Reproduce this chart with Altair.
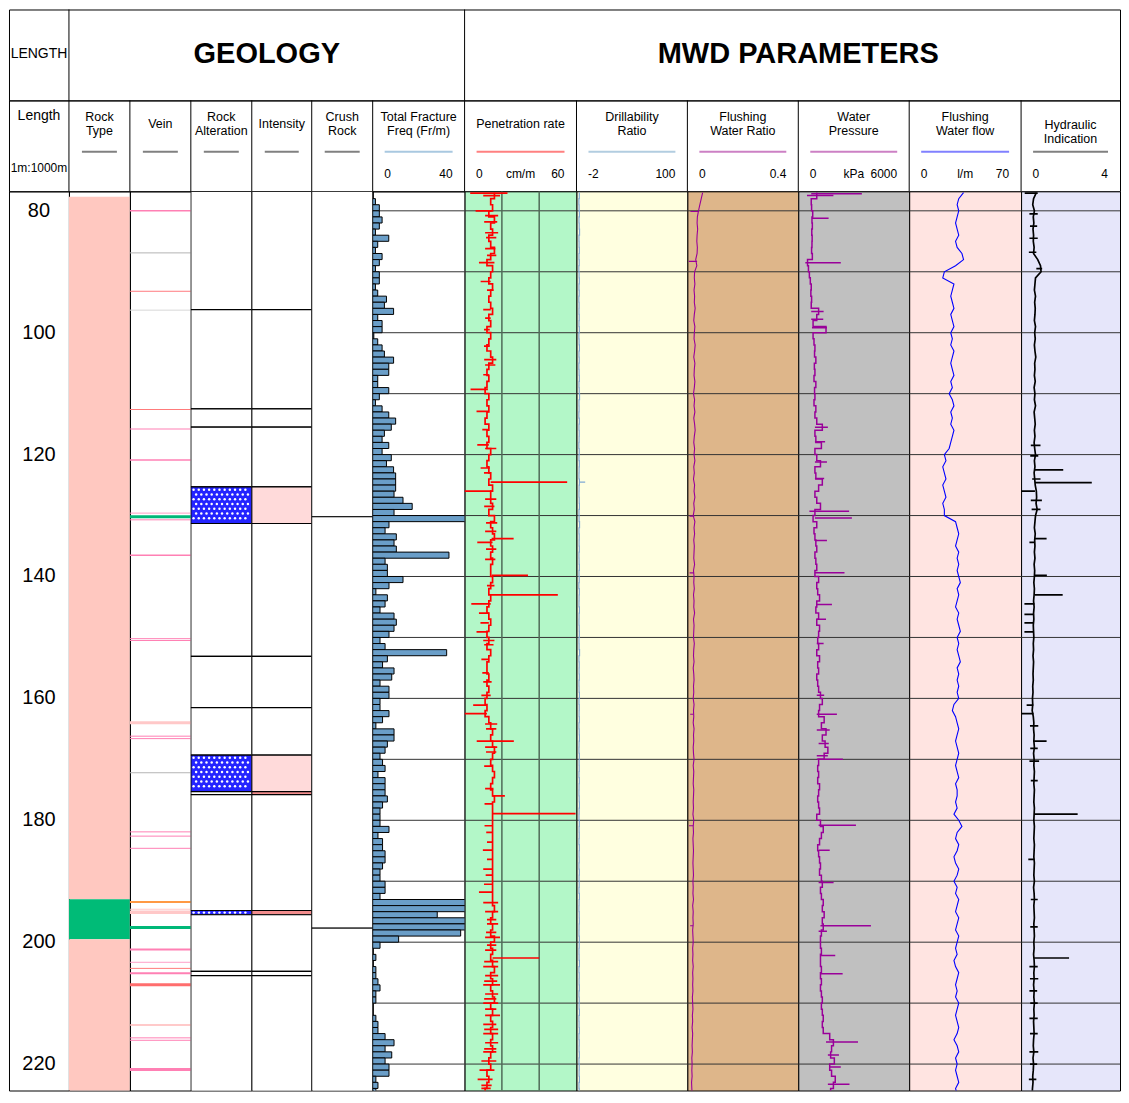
import altair as alt
import numpy as np
import pandas as pd

FONT = "Liberation Sans"

# ---------------------------------------------------------------- data
DEPTH_TOP = 76.80
DEPTH_BOTTOM = 224.34
DEPTH_LABELS = [80, 100, 120, 140, 160, 180, 200, 220]
GRID_DEPTHS = [80, 90, 100, 110, 120, 130, 140, 150, 160, 170, 180, 190, 200, 210, 220]

ROCK_TOP = [77.7, 192.95, 199.5]
ROCK_BOTTOM = [192.95, 199.5, 226.31]
ROCK_COLOR = ["#ffc8c0", "#00bb77", "#ffc8c0"]

VEIN_DEPTH = [80.0, 86.9, 93.2, 96.3, 112.6, 115.8, 120.9, 129.6, 130.2, 130.7,
              136.5, 150.2, 150.5, 164.0, 166.2, 166.6, 172.2, 181.9, 182.6, 184.6,
              193.4, 194.6, 195.1, 197.6, 201.2, 203.3, 204.3, 205.1, 207.0, 213.6,
              215.7, 216.1, 220.9]
VEIN_COLOR = ["#ff80b4", "#b4b4b4", "#ff7a80", "#d8d8d8", "#ff7a7a", "#ff80b4", "#ff80b4", "#ff9cc4", "#00b878", "#ff80b4",
              "#ff80b4", "#ff80b4", "#ff80b4", "#ffc8c8", "#ff80b4", "#ff80b4", "#b4b4b4", "#ff80b4", "#ff80b4", "#ff80b4",
              "#ff9944", "#ffc8c8", "#ffc8c8", "#00b878", "#ff80b4", "#ffa0c8", "#ff7a7a", "#ff80b4", "#ff6e6e", "#ffb8b8",
              "#ff80b4", "#ff80b4", "#ff80b4"]
VEIN_WIDTH = [1.5, 1, 1, 1, 1, 1, 1.5, 1, 3, 1,
              1.5, 1, 1, 3, 1, 1, 1, 1, 1, 1,
              2, 1, 3.5, 3, 2, 1, 1, 2, 3, 1.5,
              1, 1, 3]

ALT_TOP = [76.80, 96.2, 112.5, 115.5, 125.3, 131.3, 153.1, 161.5, 169.3, 175.3, 175.8, 194.8, 195.5, 204.8, 205.5]
ALT_BOTTOM = [96.2, 112.5, 115.5, 125.3, 131.3, 153.1, 161.5, 169.3, 175.3, 175.8, 194.8, 195.5, 204.8, 205.5, 226.31]
ALT_HATCH = [0, 0, 0, 0, 1, 0, 0, 0, 1, 0, 0, 1, 0, 0, 0]
INT_FILL = ["#ffffff", "#ffffff", "#ffffff", "#ffffff", "#ffdada", "#ffffff", "#ffffff", "#ffffff",
            "#ffdada", "#f28c8c", "#ffffff", "#f28c8c", "#ffffff", "#ffffff", "#ffffff"]

CRUSH_TOP = [76.80, 130.2, 197.7]
CRUSH_BOTTOM = [130.2, 197.7, 226.31]

TFF_FIRST_BIN = 78
TFF_VALUES = [1.2, 2.9, 2.9, 4.1, 2.9, 1.2, 7.0, 2.2, 1.2, 4.1,      # 78-87
              2.9, 1.2, 2.9, 2.9, 1.2, 2.2, 6.0, 5.1, 9.1, 2.2,      # 88-97
              4.1, 4.1, 0.5, 2.2, 4.1, 5.1, 9.1, 7.0, 7.0, 2.2,      # 98-107
              2.2, 7.0, 2.9, 1.2, 4.1, 7.0, 10.0, 8.1, 5.1, 4.1,     # 108-117
              7.0, 4.1, 8.1, 6.0, 9.1, 10.0, 10.0, 10.0, 9.3, 13.2,  # 118-127
              17.2, 9.3, 45.0, 7.1, 5.4, 10.3, 9.3, 10.3, 33.2, 5.4, # 128-137
              6.4, 6.4, 13.2, 7.1, 1.4, 6.4, 5.4, 3.2, 9.3, 10.3,    # 138-147
              9.3, 7.1, 3.2, 5.4, 32.2, 6.4, 4.3, 9.3, 8.3, 3.2,     # 148-157
              7.1, 7.1, 3.2, 3.2, 7.1, 4.3, 1.4, 9.3, 9.3, 6.4,      # 158-167
              5.4, 3.2, 4.3, 5.4, 2.3, 5.4, 5.4, 5.4, 6.4, 4.3,      # 168-177
              3.2, 3.2, 3.2, 7.1, 2.3, 4.3, 4.3, 5.4, 5.4, 4.3,      # 178-187
              3.2, 3.2, 5.4, 5.4, 3.2, 45.0, 45.0, 28.1, 45.0, 45.0, # 188-197
              38.3, 11.3, 3.2, 0.0, 1.4, 0.0, 1.4, 1.4, 2.3, 3.2,    # 198-207
              1.4, 1.4, 0.0, 0.0, 1.4, 2.3, 2.3, 5.4, 9.3, 5.4,      # 208-217
              8.3, 5.4, 7.1, 7.1, 1.4, 2.3, 1.4, 2.3, 6.4]           # 218-226

CURVE_DEPTH = list(range(77, 227))

PEN = [16, 14, 15, 13, 16, 14, 15, 13, 14, 16,
       14, 12, 15, 14, 13, 15, 14, 13, 14, 15,
       13, 14, 12, 14, 13, 12, 14, 15, 13, 12,
       13, 12, 11, 13, 12, 13, 12, 11, 13, 12,
       13, 12, 14, 13, 12, 13, 14, 13, 15, 14,
       14, 15, 13, 16, 14, 15, 16, 14, 15, 14,
       15, 14, 14, 15, 14, 13, 14, 13, 12, 13,
       14, 13, 12, 13, 12, 14, 13, 12, 12, 13,
       12, 13, 12, 11, 12, 11, 13, 14, 15, 14,
       15, 16, 15, 14, 15, 16, 15, 14, 15, 16,
       15, 15, 15, 15, 15, 15, 15, 15, 15, 15,
       15, 15, 15, 15, 15, 15, 15, 16, 15, 14,
       15, 14, 16, 14, 15, 14, 15, 16, 14, 15,
       14, 15, 16, 14, 15, 14, 15, 14, 15, 14,
       15, 14, 13, 14, 12, 13, 12, 11, 12, 11]

DRILL = [0.6, 0.2, 0.4, 0.7, 0.3, 0.5, 0.8, 0.3, 0.4, 0.6,
         0.3, 0.5, 0.2, 0.4, 0.6, 0.3, 0.5, 0.2, 0.4, 0.3,
         0.5, 0.3, 0.6, 0.2, 0.4, 0.7, 0.3, 0.5, 0.2, 0.4,
         0.6, 0.3, 0.5, 0.8, 0.3, 0.4, 0.2, 0.6, 0.3, 0.5,
         0.4, 0.2, 0.5, 0.3, 0.6, 0.4, 0.3, 0.7, 0.4, 0.3,
         0.5, 0.7, 0.3, 0.4, 0.8, 0.3, 0.5, 0.4, 0.6, 0.3,
         0.4, 0.6, 0.3, 0.5, 0.2, 0.6, 0.4, 0.3, 0.7, 0.4,
         0.3, 0.5, 0.6, 0.3, 0.4, 0.8, 0.3, 0.5, 0.4, 0.6,
         0.3, 0.4, 0.7, 0.3, 0.5, 0.4, 0.6, 0.3, 0.5, 0.7,
         0.4, 0.3, 0.6, 0.4, 0.5, 0.3, 0.6, 0.4, 0.3, 0.5,
         0.7, 0.4, 0.3, 0.6, 0.4, 0.5, 0.3, 0.6, 0.4, 0.5,
         0.3, 0.6, 0.4, 0.5, 0.3, 0.7, 0.4, 0.3, 0.5, 0.6,
         0.4, 0.3, 0.6, 0.5, 0.3, 0.4, 0.7, 0.3, 0.5, 0.4,
         0.6, 0.3, 0.5, 0.4, 0.7, 0.3, 0.4, 0.6, 0.3, 0.5,
         0.4, 0.6, 0.3, 0.5, 0.4, 0.7, 0.3, 0.5, 0.4, 0.6]

FWR = [0.055, 0.050, 0.045, 0.040, 0.036, 0.035, 0.037, 0.035, 0.034, 0.036,
       0.035, 0.030, 0.034, 0.026, 0.025, 0.027, 0.024, 0.026, 0.025, 0.028,
       0.025, 0.023, 0.027, 0.025, 0.024, 0.028, 0.026, 0.023, 0.027, 0.025,
       0.024, 0.027, 0.025, 0.022, 0.026, 0.024, 0.027, 0.023, 0.026, 0.028,
       0.025, 0.023, 0.026, 0.024, 0.027, 0.023, 0.025, 0.022, 0.026, 0.024,
       0.027, 0.023, 0.025, 0.021, 0.027, 0.024, 0.026, 0.023, 0.025, 0.024,
       0.023, 0.026, 0.022, 0.024, 0.023, 0.025, 0.022, 0.024, 0.023, 0.026,
       0.022, 0.024, 0.023, 0.022, 0.025, 0.023, 0.022, 0.024, 0.021, 0.023,
       0.024, 0.022, 0.023, 0.021, 0.024, 0.022, 0.023, 0.021, 0.024, 0.022,
       0.023, 0.021, 0.022, 0.024, 0.021, 0.023, 0.022, 0.021, 0.023, 0.022,
       0.021, 0.022, 0.020, 0.023, 0.021, 0.022, 0.020, 0.021, 0.022, 0.021,
       0.020, 0.021, 0.022, 0.020, 0.021, 0.020, 0.022, 0.019, 0.021, 0.020,
       0.021, 0.019, 0.020, 0.021, 0.019, 0.020, 0.019, 0.021, 0.019, 0.020,
       0.019, 0.020, 0.018, 0.019, 0.020, 0.018, 0.019, 0.017, 0.019, 0.018,
       0.017, 0.018, 0.016, 0.017, 0.016, 0.017, 0.015, 0.016, 0.017, 0.016]

WP = [1000, 700, 720, 780, 740, 760, 730, 750, 740, 720,
      760, 500, 550, 600, 650, 700, 680, 720, 700, 1100,
      1000, 800, 1500, 800, 850, 900, 880, 950, 870, 900,
      850, 950, 880, 900, 850, 950, 900, 1000, 1300, 900,
      950, 1250, 900, 1000, 1200, 900, 950, 1300, 1100, 900,
      1000, 1200, 900, 800, 1000, 850, 900, 950, 1000, 900,
      950, 1000, 900, 1100, 1000, 1050, 1150, 1000, 950, 1100,
      1000, 1150, 1100, 1050, 1100, 1000, 1150, 1050, 1100, 1000,
      1050, 1100, 1200, 1300, 1150, 1100, 1400, 1250, 1500, 1300,
      1450, 1600, 1400, 1100, 1050, 1100, 1050, 1150, 1100, 1050,
      1100, 1150, 1000, 1200, 1350, 1250, 1150, 1050, 1100, 1150,
      1200, 1150, 1250, 1300, 1200, 1250, 1350, 1300, 1400, 1300,
      1350, 1250, 1200, 1200, 1250, 1200, 1200, 1250, 1200, 1250,
      1200, 1250, 1300, 1250, 1300, 1350, 1300, 1350, 1700, 1900,
      1800, 1750, 1950, 1700, 1800, 2000, 1900, 1750, 1800, 1700]

FWF = [34, 31, 30, 31, 30, 29, 30, 31, 29, 30,
       33, 34, 29, 22, 21, 28, 27, 26, 27, 28,
       26, 27, 28, 26, 27, 26, 28, 27, 26, 27,
       28, 26, 27, 25, 27, 28, 26, 27, 26, 28,
       27, 26, 25, 22, 23, 21, 22, 23, 21, 22,
       23, 21, 22, 22, 29, 30, 31, 30, 29, 31,
       30, 31, 30, 31, 32, 30, 31, 30, 29, 31,
       30, 31, 32, 30, 31, 30, 31, 32, 30, 31,
       30, 31, 30, 31, 28, 27, 29, 30, 31, 30,
       29, 30, 31, 30, 29, 30, 31, 29, 30, 30,
       29, 30, 28, 31, 33, 30, 29, 31, 30, 28,
       29, 31, 30, 28, 30, 29, 31, 30, 29, 31,
       30, 29, 31, 30, 29, 30, 28, 29, 31, 30,
       29, 30, 29, 31, 30, 29, 30, 31, 30, 28,
       30, 31, 29, 30, 29, 30, 31, 29, 30, 29]

HI = [0.55, 0.45, 0.42, 0.48, 0.44, 0.46, 0.43, 0.45, 0.44, 0.47,
      0.45, 0.60, 0.70, 0.72, 0.52, 0.50, 0.48, 0.52, 0.49, 0.51,
      0.50, 0.48, 0.52, 0.49, 0.51, 0.48, 0.50, 0.53, 0.49, 0.50,
      0.48, 0.51, 0.47, 0.50, 0.48, 0.52, 0.47, 0.49, 0.51, 0.48,
      0.50, 0.47, 0.49, 0.52, 0.48, 0.50, 0.47, 0.49, 0.51, 0.55,
      0.56, 0.54, 0.58, 0.52, 0.50, 0.48, 0.51, 0.49, 0.50, 0.48,
      0.50, 0.47, 0.49, 0.48, 0.46, 0.48, 0.47, 0.45, 0.47, 0.45,
      0.46, 0.44, 0.45, 0.46, 0.44, 0.45, 0.43, 0.45, 0.44, 0.43,
      0.44, 0.42, 0.43, 0.41, 0.42, 0.40, 0.44, 0.46, 0.45, 0.47,
      0.46, 0.48, 0.45, 0.47, 0.46, 0.48, 0.47, 0.46, 0.48, 0.47,
      0.46, 0.48, 0.47, 0.46, 0.48, 0.47, 0.46, 0.48, 0.47, 0.46,
      0.48, 0.47, 0.46, 0.48, 0.45, 0.47, 0.48, 0.46, 0.47, 0.48,
      0.46, 0.47, 0.48, 0.46, 0.47, 0.45, 0.47, 0.48, 0.46, 0.47,
      0.45, 0.47, 0.46, 0.48, 0.46, 0.47, 0.45, 0.46, 0.47, 0.45,
      0.44, 0.46, 0.43, 0.45, 0.44, 0.42, 0.43, 0.41, 0.40, 0.38]

# short excursions (depth, low end, high end)
PEN_SPIKES = [(77.1, 3.0, 23.0), (77.5, 10.0, 19.0), (80.0, 5.9, 14.5), (80.8, 11.0, 18.0),
              (81.8, 10.5, 17.5), (83.6, 11.0, 18.0), (84.4, 11.5, 17.0), (86.2, 11.0, 16.5),
              (87.3, 12.0, 17.0), (88.5, 7.7, 16.0), (91.6, 8.6, 14.0), (93.0, 12.0, 15.5),
              (96.2, 10.0, 14.0), (97.6, 11.0, 14.0), (99.5, 10.4, 13.5), (102.2, 10.4, 13.5),
              (104.4, 10.5, 17.0), (105.3, 11.0, 16.5), (106.9, 10.0, 13.0), (109.3, 3.2, 12.5),
              (112.9, 6.4, 13.0), (115.9, 9.5, 12.5), (118.4, 6.8, 13.0), (119.0, 11.0, 17.0),
              (122.2, 8.6, 13.5), (123.0, 10.4, 14.0), (124.5, 14.0, 55.0), (126.0, 0.0, 14.5),
              (127.3, 11.0, 17.0), (128.5, 10.5, 16.0), (131.2, 11.5, 17.5), (132.6, 11.0, 17.0),
              (133.8, 14.5, 26.3), (134.4, 6.8, 15.0), (135.5, 11.5, 17.0), (137.2, 11.0, 16.5),
              (139.8, 14.5, 34.0), (141.5, 12.0, 16.0), (143.0, 14.0, 50.0), (144.5, 3.6, 14.0),
              (146.0, 7.7, 13.0), (147.6, 8.5, 13.0), (149.1, 6.4, 12.5), (150.5, 10.0, 16.0),
              (151.2, 10.5, 15.5), (153.6, 9.0, 13.0), (155.8, 9.5, 13.0), (157.3, 10.0, 14.5),
              (159.5, 9.0, 14.0), (161.1, 4.6, 12.0), (162.5, 0.0, 12.0), (164.2, 11.0, 17.5),
              (165.0, 11.5, 17.0), (167.0, 6.5, 26.4), (168.0, 11.0, 17.5), (168.8, 11.5, 17.0),
              (171.1, 10.5, 15.0), (174.8, 11.0, 15.5), (176.0, 15.0, 21.6), (177.3, 10.7, 15.0),
              (178.9, 15.0, 59.5), (180.9, 10.7, 15.0), (182.0, 11.6, 15.0), (183.6, 12.0, 15.0),
              (184.9, 9.8, 15.0), (186.4, 12.0, 15.0), (188.0, 10.0, 15.0), (189.0, 11.3, 15.0),
              (190.5, 10.4, 15.0), (191.8, 7.7, 15.0), (193.5, 10.0, 18.0), (195.0, 11.0, 18.0),
              (196.3, 12.0, 17.0), (197.0, 12.0, 18.0), (198.4, 11.5, 17.0), (199.2, 11.0, 19.0),
              (200.5, 12.0, 17.0), (201.3, 11.0, 17.0), (202.6, 15.0, 40.0), (203.2, 10.5, 18.0),
              (204.0, 10.0, 18.0), (205.5, 11.0, 18.0), (206.4, 10.5, 17.5), (207.0, 10.0, 19.0),
              (208.5, 11.0, 18.0), (209.3, 10.5, 17.0), (210.0, 10.0, 18.0), (211.0, 11.0, 17.0),
              (212.0, 11.0, 19.0), (213.5, 10.0, 17.0), (214.3, 10.5, 18.0), (215.0, 10.0, 18.0),
              (216.5, 11.0, 18.0), (217.5, 10.5, 17.0), (218.0, 10.0, 17.0), (219.5, 9.0, 17.0),
              (221.0, 8.0, 16.0), (222.5, 7.0, 15.0), (223.5, 9.0, 14.5), (224.0, 9.0, 14.0),
              (225.5, 8.0, 13.0)]
DRILL_SPIKES = [(124.5, 0.3, 6.0)]
FWR_SPIKES = [(80.1, 0.011, 0.040), (88.3, 0.005, 0.035), (130.1, 0.008, 0.025), (139.4, 0.008, 0.024),
              (162.6, 0.010, 0.022), (180.9, 0.006, 0.021), (197.3, 0.010, 0.021)]
WP_SPIKES = [(77.2, 700, 3440), (77.5, 470, 1900), (81.2, 740, 1640), (88.5, 380, 2300),
             (96.5, 700, 1370), (97.8, 700, 1350), (99.2, 740, 1550), (115.5, 900, 1600),
             (117.9, 900, 1450), (121.2, 900, 1550), (123.9, 900, 1400), (129.3, 600, 2750),
             (130.4, 900, 2900), (134.1, 900, 1550), (139.4, 900, 2500), (144.6, 1000, 1820),
             (147.0, 1000, 1500), (151.0, 1000, 1370), (159.5, 1000, 1400), (162.6, 1000, 2090),
             (165.2, 1000, 1700), (167.4, 1100, 1650), (169.4, 1000, 1600), (170.0, 1000, 2415),
             (180.8, 1100, 3120), (184.9, 1100, 1700), (190.2, 1100, 1910), (197.3, 1200, 3930),
             (198.2, 1100, 1550), (202.2, 1200, 2000), (205.2, 1200, 2400), (216.4, 1500, 3230),
             (218.5, 1600, 2200), (220.5, 1700, 2300), (223.3, 1600, 2770)]
HI_SPIKES = [(77.1, 0.13, 0.60), (80.5, 0.30, 0.60), (82.5, 0.32, 0.58), (84.5, 0.30, 0.60),
             (86.8, 0.28, 0.55), (89.5, 0.55, 0.76), (118.5, 0.35, 0.70), (120.2, 0.33, 0.62),
             (122.5, 0.50, 1.52), (124.0, 0.40, 0.70), (124.6, 0.50, 2.55), (126.0, 0.00, 0.50),
             (127.5, 0.35, 0.75), (129.0, 0.38, 0.70), (133.8, 0.50, 0.92), (134.4, 0.30, 0.50),
             (139.8, 0.50, 0.93), (143.0, 0.50, 1.50), (144.5, 0.12, 0.48), (146.2, 0.12, 0.45),
             (147.6, 0.12, 0.45), (149.1, 0.12, 0.45), (161.1, 0.20, 0.44), (162.5, 0.00, 0.45),
             (164.5, 0.32, 0.62), (167.0, 0.45, 0.92), (168.2, 0.33, 0.60), (170.3, 0.30, 0.65),
             (173.5, 0.35, 0.60), (179.0, 0.47, 2.04), (186.4, 0.26, 0.47), (193.0, 0.35, 0.60),
             (197.5, 0.33, 0.60), (202.6, 0.47, 1.73), (204.0, 0.30, 0.60), (206.0, 0.32, 0.62),
             (208.0, 0.30, 0.58), (210.0, 0.33, 0.60), (212.5, 0.30, 0.60), (215.0, 0.32, 0.60),
             (218.0, 0.30, 0.62), (220.0, 0.32, 0.58), (222.5, 0.28, 0.55)]

# header texts
GROUP_TITLES = ["LENGTH", "GEOLOGY", "MWD PARAMETERS"]
TITLE_LINES = [["Length"], ["Rock", "Type"], ["Vein"], ["Rock", "Alteration"], ["Intensity"],
               ["Crush", "Rock"], ["Total Fracture", "Freq (Fr/m)"], ["Penetration rate"],
               ["Drillability", "Ratio"], ["Flushing", "Water Ratio"], ["Water", "Pressure"],
               ["Flushing", "Water flow"], ["Hydraulic", "Indication"]]
SCALE_LEFT = ["", "", "", "", "", "", "0", "0", "-2", "0", "0", "0", "0"]
SCALE_MID = ["", "", "", "", "", "", "", "cm/m", "", "", "kPa", "l/m", ""]
SCALE_RIGHT = ["", "", "", "", "", "", "40", "60", "100", "0.4", "6000", "70", "4"]
LENGTH_SCALE = "1m:1000m"

# ---------------------------------------------------------------- layout / style
COL_W = [60, 61, 61, 61, 60, 61, 92, 112, 111, 111, 111, 112, 99]
COL_LEFT = [int(v) for v in np.cumsum([0] + COL_W[:-1])]
TOTAL_W = sum(COL_W)
HEAD_H = 91
DATA_H = 900
LEGEND_COLORS = ["", "#808080", "#808080", "#808080", "#808080", "#808080", "#a9c8e0",
                 "#ff8080", "#b2cde0", "#cc80c4", "#cc80c4", "#8080ff", "#808080"]
TITLE_Y0 = [15.5, 16.5, 23.5, 16.5, 23.5, 16.5, 16.5, 23.5, 16.5, 16.5, 16.5, 16.5, 24.5]
GRID_COLOR = "#333333"

YS = alt.Scale(domain=[DEPTH_TOP, DEPTH_BOTTOM], reverse=True, nice=False, zero=False)
ONE = pd.DataFrame({"k": [0]})


def Y(field):
    return alt.Y(f"{field}:Q", scale=YS, axis=None)


def XS(lo, hi):
    return alt.Scale(domain=[lo, hi], nice=False, zero=False)


def text(txt, x, y, size=12.5, weight="normal", align="center"):
    return alt.Chart(ONE).mark_text(
        text=txt, font=FONT, fontSize=size, fontWeight=weight, align=align,
        baseline="middle", color="black"
    ).encode(x=alt.value(x), y=alt.value(y))


def vline(x, color="black", y0=0, y1=HEAD_H, width=1):
    return alt.Chart(ONE).mark_rule(color=color, strokeWidth=width).encode(
        x=alt.value(x), y=alt.value(y0), y2=alt.value(y1))


# ---------------------------------------------------------------- row 1 (group titles)
geo_left, geo_w = COL_LEFT[1], sum(COL_W[1:7])
mwd_left, mwd_w = COL_LEFT[7], sum(COL_W[7:])
row1 = alt.layer(
    text(GROUP_TITLES[0], COL_W[0] / 2, 44.5, 14),
    text(GROUP_TITLES[1], geo_left + geo_w / 2, 45, 29, "bold"),
    text(GROUP_TITLES[2], mwd_left + 334, 45, 29, "bold"),
    vline(geo_left), vline(mwd_left),
).properties(width=TOTAL_W, height=HEAD_H)

# ---------------------------------------------------------------- row 2 (track headers)
hdr_layers = []
for i, w in enumerate(COL_W):
    x0 = COL_LEFT[i]
    if i > 0:
        hdr_layers.append(vline(x0))
    if i == 0:
        hdr_layers.append(text(TITLE_LINES[0][0], x0 + w / 2, TITLE_Y0[0], 14))
        hdr_layers.append(text(LENGTH_SCALE, x0 + w / 2, 67.5, 12))
        continue
    for j, line in enumerate(TITLE_LINES[i]):
        hdr_layers.append(text(line, x0 + w / 2, TITLE_Y0[i] + 14 * j))
    inset = 13 if w < 70 else 12
    hdr_layers.append(
        alt.Chart(ONE).mark_rule(color=LEGEND_COLORS[i], strokeWidth=2).encode(
            x=alt.value(x0 + inset), x2=alt.value(x0 + w - inset), y=alt.value(51.5)))
    if SCALE_LEFT[i]:
        hdr_layers.append(text(SCALE_LEFT[i], x0 + 11.5, 73.5, 12, align="left"))
    if SCALE_MID[i]:
        hdr_layers.append(text(SCALE_MID[i], x0 + w / 2, 73.5, 12))
    if SCALE_RIGHT[i]:
        hdr_layers.append(text(SCALE_RIGHT[i], x0 + w - 12, 73.5, 12, align="right"))
row2 = alt.layer(*hdr_layers).properties(width=TOTAL_W, height=HEAD_H)

# ---------------------------------------------------------------- row 3 tables
label_df = pd.DataFrame({"depth": DEPTH_LABELS})
grid_df = pd.DataFrame({"depth": GRID_DEPTHS})
rock_df = pd.DataFrame({"top": ROCK_TOP, "bottom": ROCK_BOTTOM, "color": ROCK_COLOR})
vein_df = pd.DataFrame({"depth": VEIN_DEPTH, "color": VEIN_COLOR, "width": VEIN_WIDTH})
alt_df = pd.DataFrame({"top": ALT_TOP, "bottom": ALT_BOTTOM,
                       "fill": ["#2424ff" if h else "#ffffff" for h in ALT_HATCH]})
int_df = pd.DataFrame({"top": ALT_TOP, "bottom": ALT_BOTTOM, "fill": INT_FILL})
crush_df = pd.DataFrame({"top": CRUSH_TOP, "bottom": CRUSH_BOTTOM})
tff_df = pd.DataFrame({"top": [TFF_FIRST_BIN + k for k in range(len(TFF_VALUES))],
                       "value": TFF_VALUES})
tff_df["bottom"] = tff_df["top"] + 1
tff_df["zero"] = 0.0
tff_df = tff_df[tff_df["value"] > 0]
curve_df = pd.DataFrame({"depth": CURVE_DEPTH, "pen": PEN, "drill": DRILL, "fwr": FWR,
                         "wp": WP, "fwf": FWF, "hi": HI})


def spike_df(spikes):
    return pd.DataFrame(spikes, columns=["depth", "lo", "hi"])


# hatch texture for the altered intervals (pattern only, not data)
hatch_rows = []
for top, bot, h in zip(ALT_TOP, ALT_BOTTOM, ALT_HATCH):
    if not h:
        continue
    if bot - top > 1.5:
        ys = np.arange(top + 0.45, bot - 0.2, 0.78)
    else:
        ys = [(top + bot) / 2]
    for r, yv in enumerate(ys):
        off = 0.042 if r % 2 else 0.0
        for xv in np.arange(0.045 + off, 0.97, 0.085):
            hatch_rows.append({"x": xv, "depth": yv})
hatch_df = pd.DataFrame(hatch_rows)


def grid_layer():
    return alt.Chart(grid_df).mark_rule(color=GRID_COLOR, strokeWidth=1, clip=True).encode(y=Y("depth"))


length_panel = alt.Chart(label_df).mark_text(
    font=FONT, fontSize=20, color="black", baseline="middle", align="center", clip=True
).encode(x=alt.value(COL_W[0] / 2), y=Y("depth"), text=alt.Text("depth:Q")).properties(
    width=COL_W[0], height=DATA_H)

rock_panel = alt.Chart(rock_df).mark_rect(clip=True).encode(
    x=alt.value(0), x2=alt.value(COL_W[1]), y=Y("top"), y2="bottom:Q",
    color=alt.Color("color:N", scale=None)).properties(width=COL_W[1], height=DATA_H)

vein_panel = alt.Chart(vein_df).mark_rule(clip=True).encode(
    x=alt.value(0), x2=alt.value(COL_W[2]), y=Y("depth"),
    color=alt.Color("color:N", scale=None),
    strokeWidth=alt.StrokeWidth("width:Q", scale=None)).properties(width=COL_W[2], height=DATA_H)

alt_panel = alt.layer(
    alt.Chart(alt_df).mark_rect(stroke="black", strokeWidth=1.2, clip=True).encode(
        x=alt.value(0), x2=alt.value(COL_W[3]), y=Y("top"), y2="bottom:Q",
        fill=alt.Fill("fill:N", scale=None)),
    alt.Chart(hatch_df).mark_point(shape="circle", filled=True, color="white", size=6, opacity=1,
                                   clip=True).encode(
        x=alt.X("x:Q", scale=XS(0, 1), axis=None), y=Y("depth")),
).properties(width=COL_W[3], height=DATA_H)

int_panel = alt.Chart(int_df).mark_rect(stroke="black", strokeWidth=1.2, clip=True).encode(
    x=alt.value(0), x2=alt.value(COL_W[4]), y=Y("top"), y2="bottom:Q",
    fill=alt.Fill("fill:N", scale=None)).properties(width=COL_W[4], height=DATA_H)

crush_panel = alt.Chart(crush_df).mark_rect(stroke="black", strokeWidth=1, fill="white", clip=True).encode(
    x=alt.value(0), x2=alt.value(COL_W[5]), y=Y("top"), y2="bottom:Q").properties(
    width=COL_W[5], height=DATA_H)

tff_panel = alt.layer(
    grid_layer(),
    alt.Chart(tff_df).mark_rect(fill="#6a9ec8", stroke="black", strokeWidth=1, clip=True).encode(
        x=alt.X("zero:Q", scale=XS(0, 40), axis=None), x2="value:Q",
        y=Y("top"), y2="bottom:Q"),
).properties(width=COL_W[6], height=DATA_H)


def mwd_panel(field, lo, hi, spikes, color, width, interp, bg, w, vgrid=None):
    xs = XS(lo, hi)
    layers = [grid_layer()]
    if vgrid:
        layers.append(alt.Chart(pd.DataFrame({"v": vgrid})).mark_rule(
            color="#4f6b58", strokeWidth=1.5, clip=True).encode(x=alt.X("v:Q", scale=xs, axis=None)))
    layers.append(alt.Chart(curve_df).mark_line(
        color=color, strokeWidth=width, interpolate=interp, clip=True).encode(
        x=alt.X(f"{field}:Q", scale=xs, axis=None), y=Y("depth"), order=alt.Order("depth:Q")))
    if spikes:
        layers.append(alt.Chart(spike_df(spikes)).mark_rule(
            color=color, strokeWidth=width, clip=True).encode(
            x=alt.X("lo:Q", scale=xs, axis=None), x2="hi:Q", y=Y("depth")))
    return alt.layer(*layers).properties(
        width=w, height=DATA_H,
        view=alt.ViewBackground(fill=bg, stroke="black", strokeWidth=1))


pen_panel = mwd_panel("pen", 0, 60, PEN_SPIKES, "#ff0000", 1.7, "step-before", "#b3f7c8", COL_W[7], [20, 40])
drill_panel = mwd_panel("drill", -2, 100, DRILL_SPIKES, "#7fa9d4", 1.2, "step-before", "#ffffe0", COL_W[8])
fwr_panel = mwd_panel("fwr", 0, 0.4, FWR_SPIKES, "#990099", 1.1, "linear", "#deb68a", COL_W[9])
wp_panel = mwd_panel("wp", 0, 6000, WP_SPIKES, "#990099", 1.5, "step-before", "#c0c0c0", COL_W[10])
fwf_panel = mwd_panel("fwf", 0, 70, None, "#0000ff", 1.1, "linear", "#ffe4e1", COL_W[11])
hi_panel = mwd_panel("hi", 0, 4 * COL_W[12] / 111, HI_SPIKES, "#000000", 1.7, "linear", "#e6e6fa", COL_W[12])

row3 = alt.hconcat(
    length_panel, rock_panel, vein_panel, alt_panel, int_panel, crush_panel, tff_panel,
    pen_panel, drill_panel, fwr_panel, wp_panel, fwf_panel, hi_panel,
    spacing=0, bounds="flush",
).resolve_scale(x="independent", y="independent")

chart = alt.vconcat(row1, row2, row3, spacing=0, bounds="flush").properties(
    padding={"left": 0, "top": 0, "right": 0, "bottom": 0}
).configure_view(stroke="black", strokeWidth=1)

chart.save("out.html", embed_options={"renderer": "svg", "actions": False})
